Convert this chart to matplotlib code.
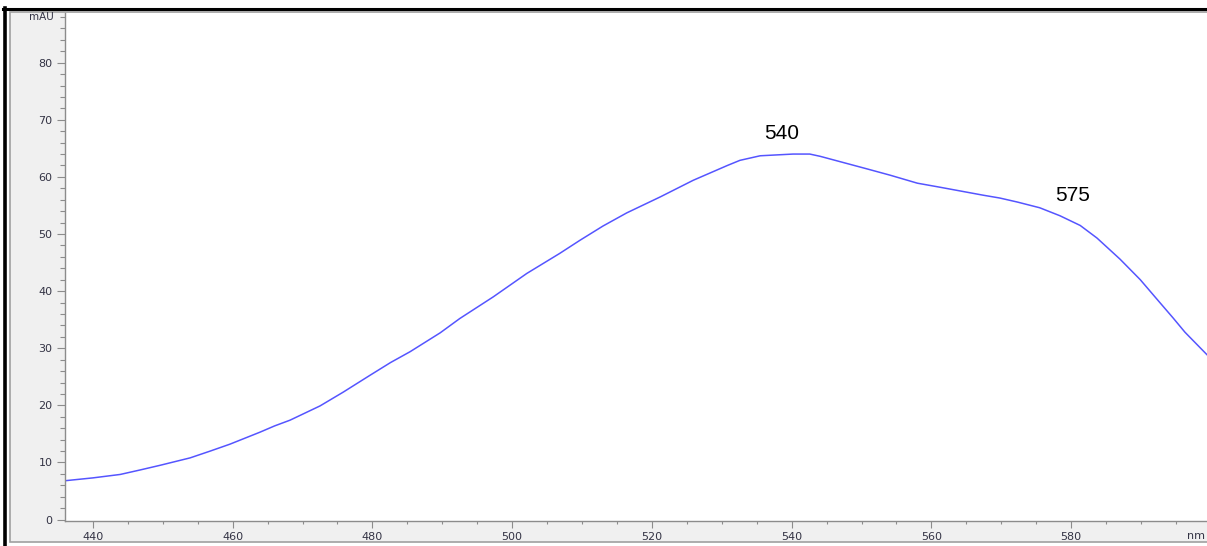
import matplotlib as mpl
mpl.use('Agg')
import numpy as np
import matplotlib.pyplot as plt
from matplotlib.patches import Rectangle
from matplotlib.lines import Line2D

# spectrum (nm, mAU)
wavelength = [436.0, 440.0, 443.9, 446.8, 449.6, 453.9, 456.8, 459.6, 463.9, 466.0,
              468.2, 472.5, 475.8, 479.7, 482.6, 485.4, 489.7, 492.5, 497.3, 502.1,
              506.8, 509.7, 513.0, 516.4, 521.2, 525.9, 530.8, 532.6, 535.5, 540.2,
              542.6, 544.1, 550.8, 554.1, 558.0, 561.2, 567.4, 569.8, 572.3, 575.5,
              578.4, 581.3, 583.7, 587.0, 589.9, 592.7, 594.6, 596.3, 599.5]
absorbance = [6.8, 7.3, 7.9, 8.7, 9.5, 10.8, 12.0, 13.2, 15.3, 16.4,
              17.4, 19.9, 22.3, 25.3, 27.5, 29.4, 32.7, 35.2, 39.0, 43.1,
              46.6, 48.9, 51.4, 53.7, 56.5, 59.4, 62.0, 62.9, 63.7, 64.0,
              64.0, 63.6, 61.4, 60.3, 58.9, 58.2, 56.8, 56.3, 55.6, 54.6,
              53.2, 51.5, 49.3, 45.6, 42.0, 38.0, 35.3, 32.8, 28.8]

peaks = [540, 575]
peak_labels = ['540', '575']

xticks = [440, 460, 480, 500, 520, 540, 560, 580]
yticks = [0, 10, 20, 30, 40, 50, 60, 70, 80]

W, H = 1207, 546
DPI = 100

def fx(px):
    return px / W

def fy(py):
    return 1 - py / H

fig = plt.figure(figsize=(W / DPI, H / DPI), dpi=DPI)
fig.patch.set_facecolor('white')

# outer grey panel + black border
fig.add_artist(Rectangle((fx(10), fy(542)), fx(1300) - fx(10), fy(12) - fy(542),
                         transform=fig.transFigure, facecolor='#f0f0f0',
                         edgecolor='#a0a0a0', linewidth=1.2, zorder=0))
fig.add_artist(Line2D([fx(3), fx(1210)], [fy(9), fy(9)], transform=fig.transFigure,
                      color='black', linewidth=2.2, zorder=1))
fig.add_artist(Line2D([fx(4.5), fx(4.5)], [fy(8), fy(550)], transform=fig.transFigure,
                      color='black', linewidth=2.6, zorder=1))

ax = fig.add_axes([fx(65), fy(521), fx(1207) - fx(65), fy(13) - fy(521)])
ax.set_facecolor('white')
ax.plot(wavelength, absorbance, color='#5555ff', linewidth=1.1, solid_joinstyle='round')

ax.set_xlim(436.0, 599.45)
ax.set_ylim(-0.25, 88.7)

for s in ['top', 'right']:
    ax.spines[s].set_visible(False)
for s in ['left', 'bottom']:
    ax.spines[s].set_color('#8c8c8c')
    ax.spines[s].set_linewidth(1.0)

ax.set_xticks(xticks)
ax.set_xticks(np.arange(440, 600, 5), minor=True)
ax.set_yticks(yticks)
ax.set_yticks(np.arange(0, 89, 2), minor=True)
ax.set_xticklabels([str(v) for v in xticks])
ax.set_yticklabels([str(v) for v in yticks])

ax.tick_params(axis='x', which='major', length=5, width=0.8, color='#8c8c8c',
               pad=3, labelsize=8, labelcolor='#333344')
ax.tick_params(axis='x', which='minor', length=2.2, width=0.8, color='#8c8c8c')
ax.tick_params(axis='y', which='major', length=6, width=0.8, color='#8c8c8c',
               pad=3, labelsize=8, labelcolor='#333344')
ax.tick_params(axis='y', which='minor', length=3.5, width=0.8, color='#8c8c8c')

# unit labels
ax.annotate('mAU', xy=(0, 88), xycoords=('axes fraction', 'data'),
            xytext=(-11, 0), textcoords='offset pixels', ha='right', va='center',
            fontsize=7.5, color='#333344')
ax.annotate('nm', xy=(1.0, 0), xycoords='axes fraction',
            xytext=(-2, -15), textcoords='offset pixels', ha='right', va='center',
            fontsize=8, color='#333344', annotation_clip=False)

# peak labels
offsets = [(-10, 21), (36, 11)]
for p, lab, off in zip(peaks, peak_labels, offsets):
    yv = np.interp(p, wavelength, absorbance)
    ax.annotate(lab, xy=(p, yv), xytext=off, textcoords='offset pixels',
                ha='center', va='center', fontsize=15, family='Liberation Sans',
                color='black')

plt.savefig('out.png', dpi=DPI)
plt.close()
